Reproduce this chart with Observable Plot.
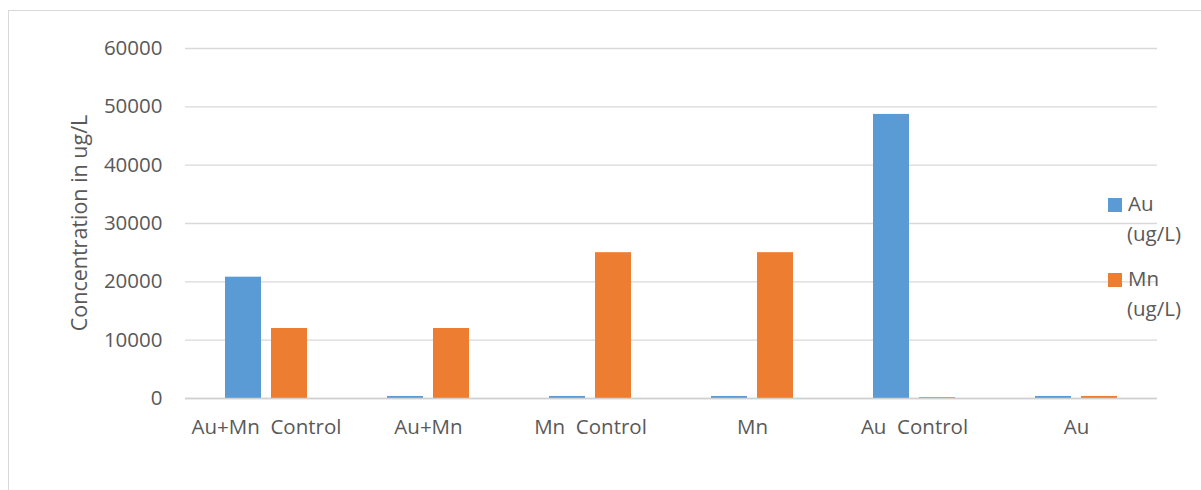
<!DOCTYPE html>
<html>
<head>
<meta charset="utf-8">
<script src="https://cdn.jsdelivr.net/npm/d3@7"></script>
<script src="https://cdn.jsdelivr.net/npm/@observablehq/plot@0.6"></script>
<style>
  html, body { margin: 0; padding: 0; background: #fff; }
  #wrap { position: relative; width: 1201px; height: 490px; overflow: hidden; font-family: "Open Sans", sans-serif; color: #595959; }
  #frame { position: absolute; left: 8px; top: 10px; width: 1210px; height: 500px; border: 1px solid #d9d9d9; box-sizing: border-box; }
  #chart { position: absolute; left: 0; top: 0; }
  #chart svg text { white-space: pre; }
  .key { position: absolute; font-size: 20.5px; line-height: 30px; color: #595959; }
  .key .sw { display: inline-block; width: 14px; height: 14px; margin-right: 6px; vertical-align: -1px; }
</style>
</head>
<body>
<div id="wrap">
  <div id="frame"></div>
  <div id="chart"></div>
</div>
<script>
// Sample groups along the horizontal axis
const categories = ["Au+Mn  Control", "Au+Mn", "Mn  Control", "Mn", "Au  Control", "Au"];
// Measured concentrations (ug/L) for each group
const auValues = [20800, 350, 350, 350, 48700, 350];
const mnValues = [12000, 12000, 25000, 25000, 150, 350];
const seriesNames = ["Au (ug/L)", "Mn (ug/L)"];
const seriesColors = ["#5B9BD5", "#ED7D31"];
const yTicks = [0, 10000, 20000, 30000, 40000, 50000, 60000];

const rows = [];
categories.forEach((c, i) => {
  rows.push({category: c, series: seriesNames[0], value: auValues[i]});
  rows.push({category: c, series: seriesNames[1], value: mnValues[i]});
});

const plot = Plot.plot({
  width: 1201,
  height: 490,
  marginTop: 48,
  marginBottom: 92,
  marginLeft: 185,
  marginRight: 44,
  style: {fontFamily: "Open Sans, sans-serif", fontSize: "20.5px", color: "#595959", background: "transparent", overflow: "visible"},
  fx: {domain: categories, padding: 0, label: null, tickSize: 0, tickPadding: 21, axis: "bottom"},
  x: {domain: seriesNames, axis: null, paddingInner: 0.21, paddingOuter: 0.85},
  y: {domain: [0, 60000], ticks: yTicks, tickFormat: d => String(d), label: null, tickSize: 0, tickPadding: 23},
  color: {domain: seriesNames, range: seriesColors},
  marks: [
    Plot.gridY(yTicks, {stroke: "#d9d9d9", strokeOpacity: 1, strokeWidth: 1.3}),
    Plot.barY(rows, {fx: "category", x: "series", y: "value", fill: "series"}),
    Plot.ruleY([0], {stroke: "#d0d0d0", strokeWidth: 1.3})
  ]
});
document.getElementById("chart").appendChild(plot);

// Rotated y-axis title
const svg = d3.select(plot);
svg.append("text")
  .attr("transform", "translate(78,223) rotate(-90)")
  .attr("text-anchor", "middle")
  .attr("dominant-baseline", "central")
  .attr("fill", "#595959")
  .style("font-size", "21.5px")
  .text("Concentration in ug/L");

// Legend at the right, names wrapped onto two lines
const wrap = document.getElementById("wrap");
const keyTops = [188, 263];
seriesNames.forEach((name, i) => {
  const [first, second] = name.split(" ");
  const k = document.createElement("div");
  k.className = "key";
  k.style.left = "1108px";
  k.style.top = keyTops[i] + "px";
  k.innerHTML = `<div><span class="sw" style="background:${seriesColors[i]}"></span>${first}</div><div style="padding-left:19px">${second}</div>`;
  wrap.appendChild(k);
});
</script>
</body>
</html>
